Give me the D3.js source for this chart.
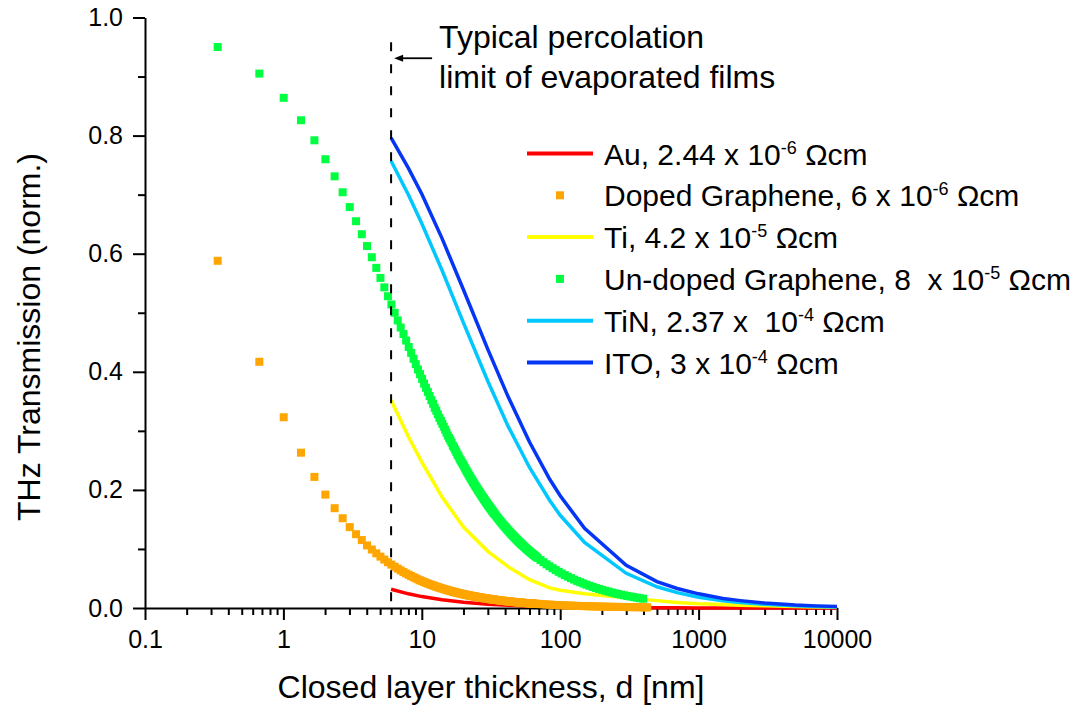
<!DOCTYPE html>
<html>
<head>
<meta charset="utf-8">
<script src="https://cdn.jsdelivr.net/npm/d3@7"></script>
<style>
  html, body { margin: 0; padding: 0; background: #fff; }
  svg { display: block; font-family: "Liberation Sans", Arial, Helvetica, sans-serif; }
  text { white-space: pre; }
</style>
</head>
<body>
<svg id="chart" width="1084" height="707"></svg>
<script>
// ---- axis ticks ----
const xTickValues = [0.1, 1, 10, 100, 1000, 10000];
const xTickLabels = ["0.1", "1", "10", "100", "1000", "10000"];
const yTickValues = [0, 0.2, 0.4, 0.6, 0.8, 1.0];
const yTickLabels = ["0.0", "0.2", "0.4", "0.6", "0.8", "1.0"];
const yMinorTicks = [0.1, 0.3, 0.5, 0.7, 0.9];

// ---- graphene: one marker per layer count ----
const grapheneLayerNm = 0.335;
const grapheneLayers = [
  1, 2, 3, 4, 5, 6, 7, 8, 9, 10, 11, 12, 13, 14, 15, 16, 17, 18, 19, 20,
  21, 22, 23, 24, 25, 26, 27, 28, 29, 30, 31, 32, 33, 34, 35, 36, 37, 38, 39, 40,
  41, 42, 43, 44, 45, 46, 47, 48, 49, 50, 51, 52, 53, 54, 55, 56, 57, 58, 59, 60,
  61, 62, 63, 64, 65, 66, 67, 68, 69, 70, 71, 72, 73, 74, 75, 76, 77, 78, 79, 80,
  81, 82, 83, 84, 85, 86, 87, 88, 89, 90, 91, 92, 93, 94, 95, 96, 97, 98, 99, 100,
  102, 104, 106, 108, 110, 112, 114, 116, 118, 120, 122, 124, 126, 128, 130,
  132, 134, 136, 138, 140, 142, 144, 146, 148, 150, 152, 154, 156, 158, 160,
  163, 166, 169, 172, 175, 178, 181, 184, 187, 190, 193, 196, 200,
  205, 215, 226, 238, 250, 263, 277, 291, 306, 322, 339, 357, 376, 396,
  417, 439, 462, 487, 513, 540, 569, 600, 632, 666, 702, 740, 780, 822, 866, 912,
  961, 1013, 1068, 1126, 1187, 1230, 1270
];
const dopedGrapheneT = [
  0.588, 0.417, 0.323, 0.263, 0.222, 0.192, 0.169, 0.152, 0.137, 0.125,
  0.115, 0.106, 0.0990, 0.0926, 0.0870, 0.0820, 0.0775, 0.0735, 0.0699, 0.0667,
  0.0637, 0.0610, 0.0585, 0.0562, 0.0541, 0.0521, 0.0503, 0.0485, 0.0469, 0.0455,
  0.0441, 0.0427, 0.0415, 0.0403, 0.0392, 0.0382, 0.0372, 0.0362, 0.0353, 0.0345,
  0.0337, 0.0329, 0.0322, 0.0314, 0.0308, 0.0301, 0.0295, 0.0289, 0.0283, 0.0278,
  0.0272, 0.0267, 0.0262, 0.0258, 0.0253, 0.0249, 0.0244, 0.0240, 0.0236, 0.0233,
  0.0229, 0.0225, 0.0222, 0.0218, 0.0215, 0.0212, 0.0209, 0.0206, 0.0203, 0.0200,
  0.0197, 0.0195, 0.0192, 0.0189, 0.0187, 0.0185, 0.0182, 0.0180, 0.0178, 0.0175,
  0.0173, 0.0171, 0.0169, 0.0167, 0.0165, 0.0163, 0.0162, 0.0160, 0.0158, 0.0156,
  0.0155, 0.0153, 0.0151, 0.0150, 0.0148, 0.0147, 0.0145, 0.0144, 0.0142, 0.0141,
  0.0138, 0.0136, 0.0133, 0.0131, 0.0128, 0.0126, 0.0124, 0.0122, 0.0120, 0.0118,
  0.0116, 0.0114, 0.0112, 0.0110, 0.0109, 0.0107, 0.0105, 0.0104, 0.0102, 0.0101,
  0.00996, 0.00982, 0.00969, 0.00956, 0.00943, 0.00931, 0.00919, 0.00907, 0.00896, 0.00885,
  0.00869, 0.00853, 0.00838, 0.00824, 0.00810, 0.00796, 0.00783, 0.00770, 0.00758,
  0.00746, 0.00735, 0.00724, 0.00709,
  0.00692, 0.00660, 0.00628, 0.00597, 0.00568, 0.00540, 0.00513, 0.00489, 0.00465,
  0.00442, 0.00420, 0.00399, 0.00379, 0.00359, 0.00341, 0.00324, 0.00308, 0.00292,
  0.00278, 0.00264, 0.00250, 0.00238, 0.00226, 0.00214, 0.00203, 0.00193, 0.00183,
  0.00173, 0.00165, 0.00156, 0.00148, 0.00141, 0.00134, 0.00127, 0.00120, 0.00116,
  0.00112
];
const undopedGrapheneT = [
  0.950, 0.905, 0.864, 0.826, 0.792, 0.760, 0.731, 0.704, 0.679, 0.655,
  0.633, 0.613, 0.594, 0.576, 0.559, 0.543, 0.528, 0.514, 0.500, 0.487,
  0.475, 0.464, 0.453, 0.442, 0.432, 0.422, 0.413, 0.404, 0.396, 0.388,
  0.380, 0.373, 0.366, 0.359, 0.352, 0.346, 0.339, 0.334, 0.328, 0.322,
  0.317, 0.312, 0.307, 0.302, 0.297, 0.292, 0.288, 0.284, 0.280, 0.275,
  0.272, 0.268, 0.264, 0.260, 0.257, 0.253, 0.250, 0.247, 0.244, 0.241,
  0.2376, 0.2347, 0.2318, 0.2290, 0.2263, 0.2236, 0.2210, 0.2185, 0.2160, 0.2136,
  0.2112, 0.2089, 0.2066, 0.2044, 0.2022, 0.2001, 0.1980, 0.1960, 0.1940, 0.1920,
  0.1901, 0.1882, 0.1864, 0.1846, 0.1828, 0.1810, 0.1793, 0.1777, 0.1760, 0.1744,
  0.1728, 0.1713, 0.1697, 0.1682, 0.1668, 0.1653, 0.1639, 0.1625, 0.1611, 0.1597,
  0.1571, 0.1545, 0.1521, 0.1497, 0.1474, 0.1451, 0.1429, 0.1408, 0.1388, 0.1368,
  0.1348, 0.1329, 0.1311, 0.1293, 0.1276, 0.1259, 0.1242, 0.1226, 0.1211, 0.1196,
  0.1181, 0.1166, 0.1152, 0.1138, 0.1125, 0.1112, 0.1099, 0.1086, 0.1074, 0.1062,
  0.1045, 0.1028, 0.1011, 0.0995, 0.0980, 0.0965, 0.0951, 0.0936, 0.0923,
  0.0910, 0.0897, 0.0884, 0.0868,
  0.0849, 0.0812, 0.0776, 0.0740, 0.0707, 0.0674, 0.0642, 0.0613, 0.0585,
  0.0557, 0.0531, 0.0506, 0.0481, 0.0458, 0.0436, 0.0415, 0.0395, 0.0376,
  0.0357, 0.0340, 0.0323, 0.0307, 0.0292, 0.0278, 0.0264, 0.0250, 0.0238,
  0.0226, 0.0215, 0.0204, 0.0194, 0.0184, 0.0175, 0.0166, 0.0158
];

// ---- evaporated films: continuous curves (thickness in nm) ----
const filmThickness = [6, 8, 10, 14, 20, 30, 42, 60, 84, 100, 150, 300, 500, 700, 1000, 1500, 2000, 3000, 5000, 7000, 10000];
const auT  = [0.0318, 0.0240, 0.0193, 0.0139, 0.00975, 0.00652, 0.00466, 0.00327, 0.00234, 0.00196, 0.00131, 0.000656, 0.000394, 0.000281, 0.000197, 0.000131, 0.0000984, 0.0000656, 0.0000394, 0.0000281, 0.0000197];
const tiT  = [0.352, 0.290, 0.247, 0.188, 0.137, 0.096, 0.070, 0.048, 0.034, 0.030, 0.024, 0.0175, 0.0125, 0.0095, 0.0070, 0.0058, 0.0048, 0.0036, 0.0024, 0.0018, 0.0013];
const tinT = [0.757, 0.700, 0.651, 0.572, 0.483, 0.384, 0.308, 0.238, 0.182, 0.157, 0.111, 0.0587, 0.036, 0.026, 0.0183, 0.0123, 0.0093, 0.0062, 0.0037, 0.0027, 0.0019];
const itoT = [0.796, 0.745, 0.701, 0.626, 0.539, 0.438, 0.358, 0.281, 0.218, 0.190, 0.135, 0.0724, 0.0447, 0.033, 0.024, 0.016, 0.0125, 0.0083, 0.0050, 0.0036, 0.0025];

const percolationLimitNm = 6;

const colors = {
  au: "#ff0000",
  doped: "#ffa500",
  ti: "#ffff00",
  undoped: "#00ff40",
  tin: "#00c8ff",
  ito: "#0535f5"
};

// ---- layout ----
const svg = d3.select("#chart");
const plotLeft = 145, plotRight = 837, plotTop = 17.5, plotBottom = 608;

const x = d3.scaleLog().domain([0.1, 10000]).range([plotLeft, plotRight]);
const y = d3.scaleLinear().domain([0, 1]).range([plotBottom, plotTop]);

const tickFont = 25;

// x axis: minor ticks then labelled major ticks
const xMinor = x.ticks().filter(v => !xTickValues.some(m => Math.abs(m - v) / m < 1e-9));
svg.append("g")
  .attr("transform", `translate(0,${plotBottom})`)
  .call(d3.axisBottom(x).tickValues(xMinor).tickSize(7).tickFormat("").tickSizeOuter(0))
  .call(g => g.select(".domain").remove());
svg.append("g")
  .attr("transform", `translate(0,${plotBottom})`)
  .call(d3.axisBottom(x).tickValues(xTickValues).tickSize(12).tickPadding(10)
    .tickFormat((d, i) => xTickLabels[i]).tickSizeOuter(0));

// y axis
svg.append("g")
  .attr("transform", `translate(${plotLeft},0)`)
  .call(d3.axisLeft(y).tickValues(yMinorTicks).tickSize(7).tickFormat("").tickSizeOuter(0))
  .call(g => g.select(".domain").remove());
svg.append("g")
  .attr("transform", `translate(${plotLeft},0)`)
  .call(d3.axisLeft(y).tickValues(yTickValues).tickSize(12).tickPadding(10)
    .tickFormat((d, i) => yTickLabels[i]).tickSizeOuter(0));

svg.selectAll(".domain, .tick line").attr("stroke", "#000").attr("stroke-width", 2);
svg.selectAll(".tick text").attr("fill", "#000").attr("font-size", tickFont)
  .attr("font-family", "Liberation Sans, Arial, sans-serif");

// axis titles
svg.append("text")
  .attr("x", (plotLeft + plotRight) / 2).attr("y", 698)
  .attr("text-anchor", "middle").attr("font-size", 32).attr("fill", "#000")
  .text("Closed layer thickness, d [nm]");
svg.append("text")
  .attr("transform", "translate(40,337) rotate(-90)")
  .attr("text-anchor", "middle").attr("font-size", 32).attr("fill", "#000")
  .text("THz Transmission (norm.)");

// ---- series ----
const line = d3.line().x(d => x(d[0])).y(d => y(d[1]));
const marker = 8;

function drawLine(values, color) {
  svg.append("path")
    .datum(filmThickness.map((t, i) => [t, values[i]]))
    .attr("fill", "none").attr("stroke", color).attr("stroke-width", 3.5)
    .attr("d", line);
}
function drawMarkers(values, color) {
  svg.append("g")
    .selectAll("rect")
    .data(values.map((v, i) => [grapheneLayers[i] * grapheneLayerNm, v]))
    .join("rect")
    .attr("x", d => x(d[0]) - marker / 2)
    .attr("y", d => y(d[1]) - marker / 2)
    .attr("width", marker).attr("height", marker)
    .attr("fill", color);
}

drawLine(auT, colors.au);
drawLine(tiT, colors.ti);
drawMarkers(dopedGrapheneT, colors.doped);
drawMarkers(undopedGrapheneT, colors.undoped);
drawLine(tinT, colors.tin);
drawLine(itoT, colors.ito);

// ---- percolation limit ----
const xp = x(percolationLimitNm);
svg.append("line")
  .attr("x1", xp).attr("x2", xp)
  .attr("y1", y(0.958)).attr("y2", y(0))
  .attr("stroke", "#000").attr("stroke-width", 2)
  .attr("stroke-dasharray", "9,13");

const arrowY = y(0.931);
svg.append("line")
  .attr("x1", xp + 41).attr("x2", xp + 10)
  .attr("y1", arrowY).attr("y2", arrowY)
  .attr("stroke", "#000").attr("stroke-width", 1.8);
svg.append("path")
  .attr("d", `M${xp + 3},${arrowY} L${xp + 12},${arrowY - 3.5} L${xp + 12},${arrowY + 3.5} Z`)
  .attr("fill", "#000");

const note = svg.append("text").attr("font-size", 32).attr("fill", "#000");
note.append("tspan").attr("x", xp + 48).attr("y", 47.5).text("Typical percolation");
note.append("tspan").attr("x", xp + 48).attr("y", 87.5).text("limit of evaporated films");

// ---- legend ----
const legendEntries = [
  { kind: "line",   color: colors.au,      label: "Au, 2.44 x 10",              exp: "-6", unit: " Ωcm" },
  { kind: "marker", color: colors.doped,   label: "Doped Graphene, 6 x 10",     exp: "-6", unit: " Ωcm" },
  { kind: "line",   color: colors.ti,      label: "Ti, 4.2 x 10",               exp: "-5", unit: " Ωcm" },
  { kind: "marker", color: colors.undoped, label: "Un-doped Graphene, 8  x 10", exp: "-5", unit: " Ωcm" },
  { kind: "line",   color: colors.tin,     label: "TiN, 2.37 x  10",            exp: "-4", unit: " Ωcm" },
  { kind: "line",   color: colors.ito,     label: "ITO, 3 x 10",                exp: "-4", unit: " Ωcm" }
];
const legendX0 = 527, legendX1 = 593, legendTextX = 604, legendY0 = 153.5, legendStep = 41.8;
const legendFont = 30;

legendEntries.forEach((e, i) => {
  const cy = legendY0 + i * legendStep;
  if (e.kind === "line") {
    svg.append("line")
      .attr("x1", legendX0).attr("x2", legendX1).attr("y1", cy).attr("y2", cy)
      .attr("stroke", e.color).attr("stroke-width", 4);
  } else {
    svg.append("rect")
      .attr("x", (legendX0 + legendX1) / 2 - 4).attr("y", cy - 4)
      .attr("width", 8).attr("height", 8).attr("fill", e.color);
  }
  const t = svg.append("text").attr("x", legendTextX).attr("y", cy + 11)
    .attr("font-size", legendFont).attr("fill", "#000");
  t.append("tspan").text(e.label);
  t.append("tspan").attr("font-size", 18).attr("dy", -11).text(e.exp);
  t.append("tspan").attr("font-size", legendFont).attr("dy", 11).text(e.unit);
});
</script>
</body>
</html>
